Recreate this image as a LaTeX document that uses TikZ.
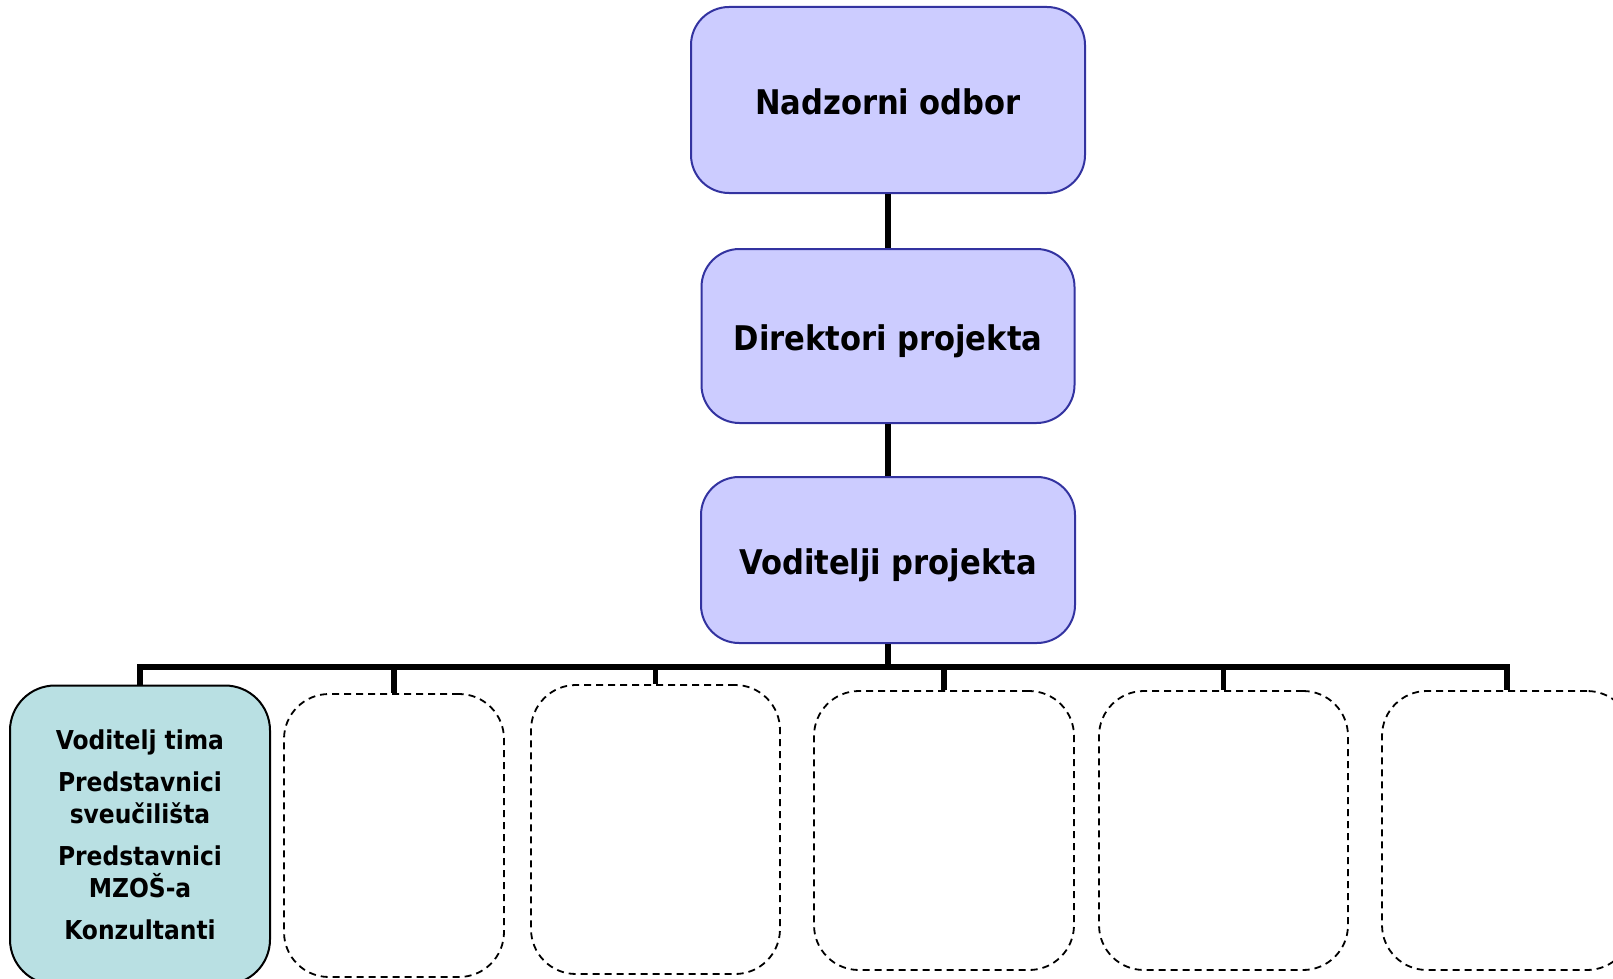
\documentclass[tikz,border=0pt]{standalone}
\usepackage{fontspec}
\setmainfont{DejaVu Sans Condensed}[BoldFont={DejaVu Sans Condensed Bold}]
\definecolor{lav}{RGB}{204,204,255}
\definecolor{lavline}{RGB}{51,51,160}
\definecolor{teal}{RGB}{185,224,227}
\begin{document}
\begin{tikzpicture}[x=1pt,y=-1pt,
  topbox/.style={draw=lavline, fill=lav, line width=2pt, rounded corners=38pt,
    inner sep=0pt, text height=32pt, text depth=4pt,
    font=\bfseries\fontsize{34}{40}\selectfont},
  tealbox/.style={draw=black, fill=teal, line width=2pt, rounded corners=45pt,
    inner sep=0pt, align=center, font=\bfseries\fontsize{26}{32}\selectfont},
  emptybox/.style={draw=black, line width=1.8pt, dash pattern=on 7pt off 5pt,
    rounded corners=45pt, inner sep=0pt},
  conn/.style={draw=black, line width=5.5pt, line join=miter}]
\useasboundingbox (0,0) rectangle (1613,979);
\clip (0,0) rectangle (1613,979);
\node[topbox, minimum width=394pt, minimum height=186pt] (A) at (888,100) {Nadzorni odbor};
\node[topbox, minimum width=373pt, minimum height=174pt] (B) at (888,336) {Direktori projekta};
\node[topbox, minimum width=374pt, minimum height=166pt] (C) at (888,560) {Voditelji projekta};
\node[tealbox, minimum width=260pt, minimum height=299pt] (D1) at (140,835)
  {Voditelj tima\\[10pt]Predstavnici\\sveučilišta\\[10pt]Predstavnici\\MZOŠ-a\\[10pt]Konzultanti};
\node[emptybox, minimum width=220pt, minimum height=283pt] (D2) at (394,835.5) {};
\node[emptybox, minimum width=249pt, minimum height=289pt] (D3) at (655.5,829.5) {};
\node[emptybox, minimum width=260pt, minimum height=279pt] (D4) at (944,830.5) {};
\node[emptybox, minimum width=249pt, minimum height=279pt] (D5) at (1223.5,830.5) {};
\node[emptybox, minimum width=250pt, minimum height=279pt] (D6) at (1507,830.5) {};
\coordinate (bus) at (888,667);
\draw[conn] (A.south) -- (B.north);
\draw[conn] (B.south) -- (C.north);
\draw[conn] (C.south) -- (bus);
\foreach \n in {D1,D2,D3,D4,D5,D6} \draw[conn] (bus) -| (\n.north);
\end{tikzpicture}
\end{document}
